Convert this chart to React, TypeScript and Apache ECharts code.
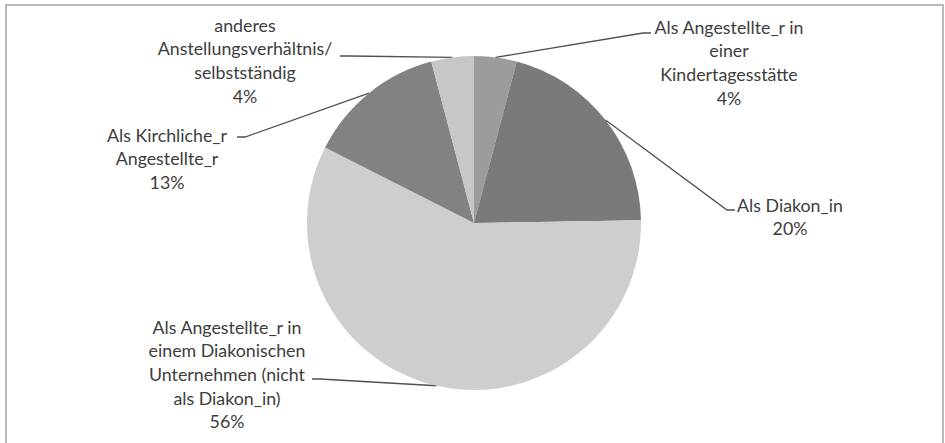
import React, { useEffect, useRef } from "react";
import * as echarts from "echarts";

// Categories (with the line breaks used in the reference labels)
const categories: string[] = [
  "Als Angestellte_r in\neiner\nKindertagesstätte",
  "Als Diakon_in",
  "Als Angestellte_r in\neinem Diakonischen\nUnternehmen (nicht\nals Diakon_in)",
  "Als Kirchliche_r\nAngestellte_r",
  "anderes\nAnstellungsverhältnis/\nselbstständig",
];

// Percent values as printed on the chart
const percents: number[] = [4, 20, 56, 13, 4];

const sliceColors: string[] = ["#9c9c9c", "#7a7a7a", "#cecece", "#828282", "#c7c7c7"];

// Manual label placement (label centre x, top y, leader-line bend and end points)
const labelPlacement = [
  { x: 729, y: 15, bend: [643, 33], end: [651, 33] },
  { x: 790, y: 193, bend: [727, 210], end: [735, 210] },
  { x: 227, y: 315, bend: [320, 379], end: [312, 379] },
  { x: 167, y: 123, bend: [245, 137], end: [237, 137] },
  { x: 245, y: 13, bend: [350, 56], end: [340, 56] },
];

export default function App() {
  const ref = useRef<HTMLDivElement>(null);

  useEffect(() => {
    if (!ref.current) return;
    const chart = echarts.init(ref.current, null, { renderer: "svg" });
    const data = categories.map((name, i) => ({
      name,
      value: percents[i],
      itemStyle: { color: sliceColors[i] },
    }));
    chart.setOption({
      animation: false,
      backgroundColor: "#ffffff",
      graphic: [
        {
          type: "rect",
          shape: { x: 6, y: 5, width: 937, height: 445 },
          style: { fill: "none", stroke: "#a3a3a3", lineWidth: 1.5 },
          silent: true,
        },
      ],
      series: [
        {
          type: "pie",
          center: [474, 223],
          radius: 167,
          startAngle: 90,
          clockwise: true,
          avoidLabelOverlap: false,
          itemStyle: { borderWidth: 0 },
          label: {
            show: true,
            position: "outside",
            formatter: (p: any) => `${p.name}\n${p.value}%`,
            fontFamily: "Lato",
            fontSize: 17.8,
            lineHeight: 23.6,
            color: "#3d3d3d",
            align: "center",
          },
          labelLine: {
            show: true,
            length: 10,
            length2: 10,
            lineStyle: { color: "#505050", width: 1.3 },
          },
          labelLayout: (params: any) => {
            const pl = labelPlacement[params.dataIndex];
            const start = params.labelLinePoints ? params.labelLinePoints[0] : pl.bend;
            return {
              x: pl.x,
              y: pl.y,
              align: "center",
              verticalAlign: "top",
              labelLinePoints: [start, pl.bend, pl.end],
            };
          },
          data,
        },
      ],
    });
    return () => chart.dispose();
  }, []);

  return (
    <div
      ref={ref}
      style={{ position: "fixed", left: 0, top: 0, width: 945, height: 443 }}
    />
  );
}
